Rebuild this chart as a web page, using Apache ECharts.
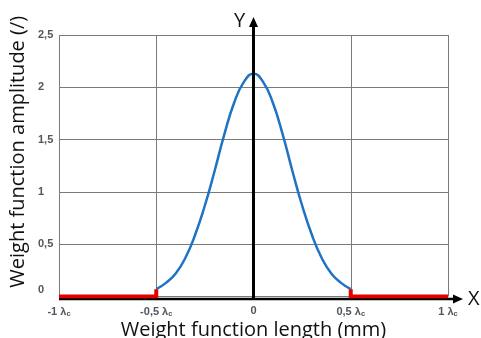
<!DOCTYPE html>
<html><head><meta charset="utf-8">
<script src="https://cdn.jsdelivr.net/npm/echarts@6/dist/echarts.min.js"></script>
<style>html,body{margin:0;padding:0;background:#fff}#c{width:481px;height:338px}</style>
</head><body><div id="c"></div>
<script>
// Weight function (blue curve)
const curveX = [-0.5,-0.45,-0.4,-0.35,-0.3,-0.25,-0.2,-0.15,-0.1,-0.05,0,0.05,0.1,0.15,0.2,0.25,0.3,0.35,0.4,0.45,0.5];
const curveY = [0.07,0.13,0.22,0.37,0.59,0.87,1.20,1.55,1.85,2.05,2.13,2.05,1.85,1.55,1.20,0.87,0.59,0.37,0.22,0.13,0.07];
// Red zero segments outside the window
const redLeftX = [-1,-0.5,-0.5];
const redLeftY = [0,0,0.07];
const redRightX = [0.5,0.5,1];
const redRightY = [0.07,0,0];
// Tick labels
const xTickValues = [-1,-0.5,0,0.5,1];
const xTickLabels = ['-1 λ','-0,5 λ','0','0,5 λ','1 λ'];
const yTickValues = [0,0.5,1,1.5,2,2.5];
const yTickLabels = ['0','0,5','1','1,5','2','2,5'];

const zip = (xs, ys) => xs.map((x,i)=>[x, ys[i]]);
const chart = echarts.init(document.getElementById('c'), null, {renderer:'canvas'});
const lblFont = {fontSize:11, fontWeight:'bold', color:'#50555e', fontFamily:'Liberation Sans'};
const option = {
  animation:false,
  backgroundColor:'#fff',
  grid:{left:59, right:33, top:35, bottom:41.5, outerBoundsMode:'none', containLabel:false},
  xAxis:{
    type:'value', min:-1, max:1, interval:0.5,
    axisLine:{show:false}, axisTick:{show:false},
    splitLine:{show:true, lineStyle:{color:'#7a7a7a', width:1}},
    axisLabel:Object.assign({
      margin:9,
      formatter:function(v){
        const i = xTickValues.findIndex(t=>Math.abs(t-v)<1e-9);
        if(i<0) return '';
        const l = xTickLabels[i];
        return l.indexOf('λ')>=0 ? l + '{s|c}' : l;
      },
      rich:{s:{fontSize:7.5, fontWeight:'bold', color:'#50555e', fontFamily:'Liberation Sans', padding:[4,0,0,0]}}
    }, lblFont),
    name:'Weight function length (mm)', nameLocation:'middle', nameGap:24, nameMoveOverlap:false,
    nameTextStyle:{fontSize:20, color:'#111', fontFamily:'Open Sans'}
  },
  yAxis:{
    type:'value', min:0, max:2.5, interval:0.5,
    axisLine:{show:false}, axisTick:{show:false},
    splitLine:{show:true, lineStyle:{color:'#7a7a7a', width:1}},
    axisLabel:Object.assign({
      margin:21, align:'left',
      formatter:function(v){
        const i = yTickValues.findIndex(t=>Math.abs(t-v)<1e-9);
        if(i<0) return '';
        return v===0 ? '{z|'+yTickLabels[i]+'}' : yTickLabels[i];
      },
      rich:{z:Object.assign({padding:[0,0,14,0]}, lblFont)}
    }, lblFont),
    name:'Weight function amplitude (/)', nameLocation:'middle', nameGap:31, nameMoveOverlap:false,
    nameTextStyle:{fontSize:20, color:'#111', fontFamily:'Open Sans', padding:[0,0,0,28]}
  },
  series:[
    {type:'line', data:zip(curveX,curveY), smooth:true, symbol:'none', z:3,
     lineStyle:{color:'#1f73c4', width:2.5}},
    {type:'line', data:zip(redLeftX,redLeftY), symbol:'none', z:4,
     lineStyle:{color:'#e50000', width:4, cap:'butt', join:'miter'}},
    {type:'line', data:zip(redRightX,redRightY), symbol:'none', z:4,
     lineStyle:{color:'#e50000', width:4, cap:'butt', join:'miter'}}
  ]
};
chart.setOption(option);
const p0 = chart.convertToPixel({gridIndex:0},[-1,0]);
const p1 = chart.convertToPixel({gridIndex:0},[1,0]);
const pTop = chart.convertToPixel({gridIndex:0},[0,2.5]);
const axY = p0[1]+2.5;
const xEnd = p1[0]+15;
const yx = pTop[0];
const yTop = pTop[1]-18;
chart.setOption({graphic:[
  {type:'line', z:1, shape:{x1:p0[0], y1:axY, x2:xEnd-8, y2:axY}, style:{stroke:'#000', lineWidth:2.5}},
  {type:'polygon', z:1, shape:{points:[[xEnd,axY],[xEnd-10,axY-4.5],[xEnd-10,axY+4.5]]}, style:{fill:'#000'}},
  {type:'line', z:10, shape:{x1:yx, y1:axY+1, x2:yx, y2:yTop+8}, style:{stroke:'#000', lineWidth:3}},
  {type:'polygon', z:10, shape:{points:[[yx,yTop],[yx-4.5,yTop+10],[yx+4.5,yTop+10]]}, style:{fill:'#000'}},
  {type:'text', z:10, style:{text:'X', x:xEnd+5, y:axY, fill:'#111', font:'20px "Open Sans"', verticalAlign:'middle', align:'left'}},
  {type:'text', z:10, style:{text:'Y', x:yx-14, y:yTop+4, fill:'#111', font:'20px "Open Sans"', verticalAlign:'middle', align:'center'}}
]});
</script></body></html>
